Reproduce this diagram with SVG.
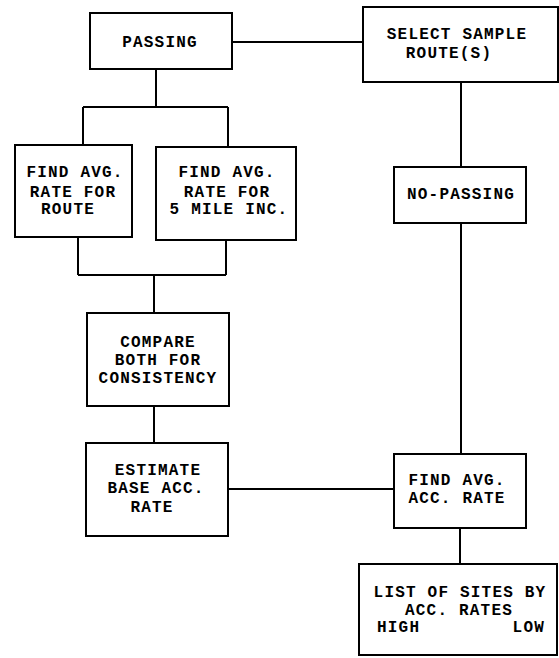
<svg xmlns="http://www.w3.org/2000/svg" width="559" height="658" viewBox="0 0 559 658">
<style>
.box{fill:#fff;stroke:#000;stroke-width:2}
.ln{fill:none;stroke:#000;stroke-width:2}
text{font-family:"Liberation Mono","DejaVu Sans Mono",monospace;font-weight:bold;font-size:16px;letter-spacing:1.2px;fill:#000;text-anchor:middle}
</style>
<rect width="559" height="658" fill="#fff"/>
<g id="connectors">
<path class="ln" d="M232,42 H363"/>
<path class="ln" d="M156,69 V107 M83,107 H228 M83,107 V145 M228,107 V147"/>
<path class="ln" d="M78,237 V275 M226,240 V275 M78,275 H226 M154,275 V313"/>
<path class="ln" d="M154,406 V443"/>
<path class="ln" d="M228,489 H394"/>
<path class="ln" d="M461,82 V167 M461,223 V454 M460,528 V564"/>
</g>
<g id="passing"><rect class="box" x="90" y="13" width="142" height="56"/><text x="160" y="47">PASSING</text></g>
<g id="select"><rect class="box" x="363" y="7" width="195" height="75"/><text x="457" y="39">SELECT SAMPLE</text><text x="449" y="58">ROUTE(S)</text></g>
<g id="route"><rect class="box" x="15" y="145" width="117" height="92"/><text x="75" y="177">FIND AVG.</text><text x="73" y="197">RATE FOR</text><text x="68" y="214">ROUTE</text></g>
<g id="inc"><rect class="box" x="156" y="147" width="140" height="93"/><text x="227" y="177">FIND AVG.</text><text x="227" y="197">RATE FOR</text><text x="229" y="214">5 MILE INC.</text></g>
<g id="compare"><rect class="box" x="87" y="313" width="142" height="93"/><text x="158" y="347">COMPARE</text><text x="158" y="365">BOTH FOR</text><text x="158" y="383">CONSISTENCY</text></g>
<g id="estimate"><rect class="box" x="86" y="443" width="142" height="93"/><text x="158" y="475">ESTIMATE</text><text x="156" y="493">BASE ACC.</text><text x="152" y="512">RATE</text></g>
<g id="nopassing"><rect class="box" x="394" y="167" width="132" height="56"/><text x="461" y="199">NO-PASSING</text></g>
<g id="findacc"><rect class="box" x="394" y="454" width="132" height="74"/><text x="457" y="485">FIND AVG.</text><text x="457" y="503">ACC. RATE</text></g>
<g id="list"><rect class="box" x="359" y="564" width="198" height="91"/><text x="460" y="597">LIST OF SITES BY</text><text x="459" y="615">ACC. RATES</text><text x="377" y="632" style="text-anchor:start">HIGH</text><text x="545" y="632" style="text-anchor:end">LOW</text></g>
</svg>
